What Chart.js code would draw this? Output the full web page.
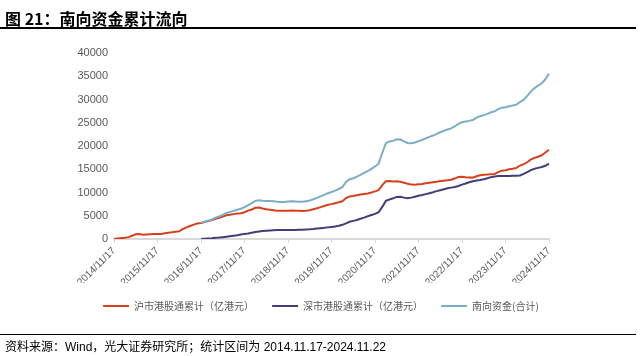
<!DOCTYPE html>
<html>
<head>
<meta charset="utf-8">
<script src="https://cdn.jsdelivr.net/npm/chart.js@4.4.1/dist/chart.umd.min.js"></script>
<style>
  html, body { margin: 0; padding: 0; background: #fff; }
  #wrap { position: relative; width: 642px; height: 356px; overflow: hidden; }
  #c { position: absolute; left: 0; top: 0; }
  #title { position: absolute; left: 5px; top: 6px; font: bold 16px 'Noto Sans CJK SC', sans-serif; color: #000; white-space: nowrap; }
  #tline { position: absolute; left: 0; top: 27px; width: 636px; height: 0; border-top: 2px solid #000; }
  #fline { position: absolute; left: 0; top: 334px; width: 636px; height: 0; border-top: 1.5px solid #000; }
  #foot { position: absolute; left: 5px; top: 337px; font: 12px 'Liberation Sans', 'Noto Sans CJK SC', sans-serif; color: #000; white-space: nowrap; }
</style>
</head>
<body>
<div id="wrap">
  <canvas id="c" width="642" height="356"></canvas>
  <div id="title">图 21：南向资金累计流向</div>
  <div id="tline"></div>
  <div id="fline"></div>
  <div id="foot">资料来源：Wind，光大证券研究所；统计区间为 2014.11.17-2024.11.22</div>
</div>
<script>
// ---- data (亿港元), monthly samples 2014/11/17 ... 2024/11/17 ----
const startYear = 2014, startMonth = 11, monthCount = 121;
const categories = [];
for (let i = 0; i < monthCount; i++) {
  const m = (startMonth - 1 + i) % 12 + 1;
  const y = startYear + Math.floor((startMonth - 1 + i) / 12);
  categories.push(y + '/' + String(m).padStart(2, '0') + '/17');
}
const tickLabels = ['2014/11/17','2015/11/17','2016/11/17','2017/11/17','2018/11/17','2019/11/17',
                    '2020/11/17','2021/11/17','2022/11/17','2023/11/17','2024/11/17'];

const shConnect = [
  0, 100, 200, 280, 400, 700, 1000, 1050, 900, 950, 1000, 1050,
  1070, 1100, 1250, 1350, 1450, 1580, 1650, 2150, 2500, 2800, 3100, 3350,
  3450, 3650, 3850, 4050, 4350, 4550, 4800, 5100, 5200, 5350, 5500, 5550,
  5750, 6100, 6350, 6700, 6750, 6550, 6400, 6300, 6200, 6100, 6050, 6050,
  6100, 6150, 6100, 6050, 6000, 6100, 6200, 6400, 6600, 6850, 7100, 7350,
  7500, 7700, 7900, 8100, 8800, 9150, 9250, 9400, 9550, 9700, 9800, 10000,
  10250, 10500, 11600, 12400, 12450, 12350, 12400, 12300, 12100, 11900, 11700, 11650,
  11750, 11850, 12000, 12100, 12200, 12300, 12450, 12550, 12650, 12750, 13000, 13350,
  13400, 13300, 13250, 13200, 13500, 13700, 13800, 13850, 13950, 14000, 14400, 14700,
  14800, 15000, 15100, 15300, 15800, 16100, 16500, 17100, 17450, 17700, 18000, 18600,
  19200
];
const szConnect = [
  null, null, null, null, null, null, null, null, null, null, null, null,
  null, null, null, null, null, null, null, null, null, null, null, null,
  0, 50, 100, 150, 250, 300, 400, 500, 600, 700, 800, 950,
  1100, 1200, 1350, 1500, 1600, 1700, 1780, 1850, 1900, 1920, 1930, 1930,
  1940, 1950, 1960, 1970, 1990, 2030, 2080, 2150, 2250, 2320, 2400, 2500,
  2600, 2700, 2850, 3050, 3350, 3700, 3900, 4100, 4350, 4600, 4900, 5150,
  5400, 5750, 6900, 8200, 8500, 8750, 9050, 9100, 8900, 8750, 8900, 9100,
  9300, 9450, 9650, 9850, 10050, 10300, 10500, 10700, 10900, 11050, 11200, 11400,
  11700, 11950, 12200, 12400, 12600, 12700, 12850, 13050, 13300, 13450, 13550, 13550,
  13550, 13550, 13600, 13600, 13650, 14000, 14400, 14800, 15100, 15300, 15500, 15750,
  16200
];
const southTotal = [
  null, null, null, null, null, null, null, null, null, null, null, null,
  null, null, null, null, null, null, null, null, null, null, null, null,
  3450, 3700, 3950, 4200, 4600, 4850, 5200, 5600, 5800, 6050, 6300, 6500,
  6850, 7300, 7700, 8200, 8350, 8250, 8180, 8150, 8100, 8020, 7980, 7980,
  8040, 8100, 8060, 8020, 7990, 8130, 8280, 8550, 8850, 9170, 9500, 9850,
  10100, 10400, 10750, 11150, 12250, 12850, 13050, 13400, 13800, 14200, 14600, 15100,
  15600, 16200, 18500, 20600, 20950, 21100, 21450, 21400, 21000, 20650, 20600, 20750,
  21050, 21300, 21650, 21950, 22250, 22600, 22950, 23250, 23550, 23800, 24200, 24750,
  25100, 25250, 25400, 25600, 26100, 26400, 26650, 26900, 27250, 27450, 27950, 28250,
  28350, 28550, 28700, 28900, 29450, 29900, 30800, 31700, 32450, 33000, 33500, 34350,
  35600
];
const seriesNames = ['沪市港股通累计（亿港元）', '深市港股通累计（亿港元）', '南向资金(合计)'];
const seriesColors = ['#d8401d', '#433e77', '#7aaec6'];
const yTicks = [0, 5000, 10000, 15000, 20000, 25000, 30000, 35000, 40000];

const tickFont = { family: "'Liberation Sans', 'Noto Sans CJK SC', sans-serif", size: 11 };
const values = [shConnect, szConnect, southTotal];

new Chart(document.getElementById('c'), {
  type: 'line',
  data: {
    labels: categories,
    datasets: values.map((v, i) => ({
      label: seriesNames[i],
      data: v,
      borderColor: seriesColors[i],
      backgroundColor: seriesColors[i],
      borderWidth: 2,
      pointRadius: 0,
      tension: 0,
      spanGaps: false,
      order: 3 - i
    }))
  },
  options: {
    responsive: false,
    animation: false,
    layout: { padding: { top: 53, right: 0, left: 0, bottom: 35 } },
    plugins: {
      tooltip: { enabled: false },
      legend: {
        position: 'bottom',
        labels: {
          boxWidth: 26,
          boxHeight: 2,
          padding: 18,
          color: '#595959',
          font: { family: "'Noto Sans CJK SC', sans-serif", size: 10 },
          sort: (a, b) => a.datasetIndex - b.datasetIndex,
          generateLabels: (chart) => {
            const items = Chart.defaults.plugins.legend.labels.generateLabels(chart);
            items.forEach(it => { it.lineWidth = 0; });
            return items;
          }
        }
      }
    },
    scales: {
      x: {
        type: 'category',
        afterBuildTicks: (axis) => {
          axis.ticks = axis.ticks.filter(t => tickLabels.includes(categories[t.value]));
        },
        afterFit: (s) => { s.height = 44; },
        border: { display: true, color: '#d9d9d9', width: 2 },
        grid: { display: true, drawOnChartArea: false, drawTicks: true, tickLength: 4, color: '#d9d9d9' },
        ticks: {
          autoSkip: false,
          maxRotation: 45,
          minRotation: 45,
          padding: 2,
          color: '#595959',
          font: { family: tickFont.family, size: 10 },
          callback: function (val) { return categories[val]; }
        }
      },
      y: {
        min: 0,
        max: 40000,
        afterFit: (s) => { s.width = 114; },
        afterBuildTicks: (axis) => { axis.ticks = yTicks.map(v => ({ value: v })); },
        border: { display: false },
        grid: { display: false, drawTicks: false },
        ticks: {
          padding: 6,
          color: '#595959',
          font: tickFont,
          callback: (v) => String(v)
        }
      },
      yRight: {
        position: 'right',
        display: true,
        afterFit: (s) => { s.width = 93; },
        border: { display: false },
        grid: { display: false, drawTicks: false },
        ticks: { display: false }
      }
    }
  }
});
</script>
</body>
</html>
